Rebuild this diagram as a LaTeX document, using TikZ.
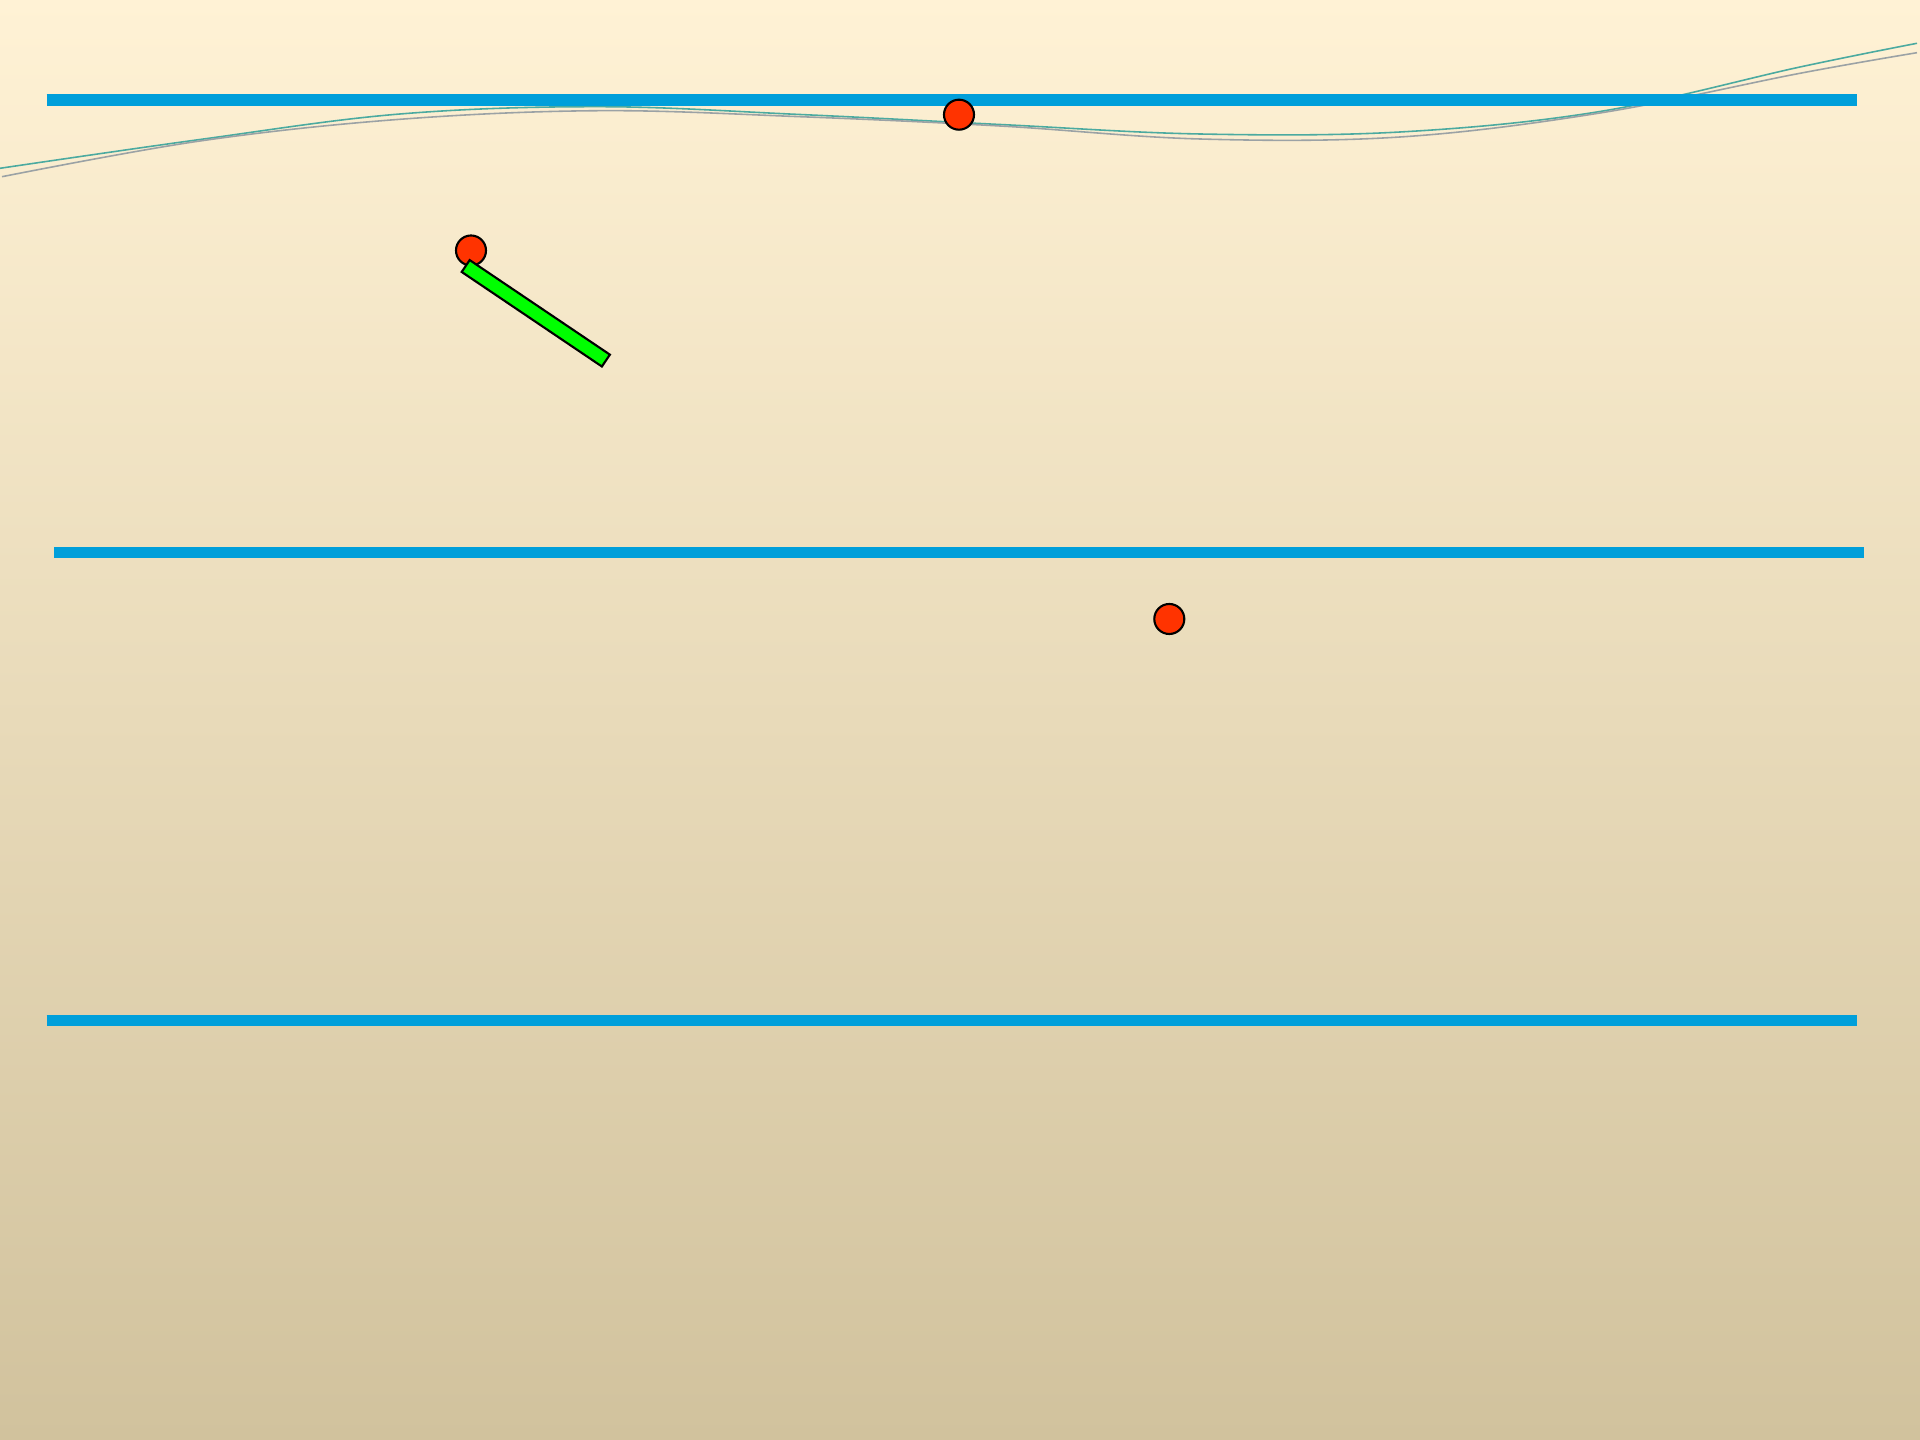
\documentclass[tikz,border=0pt]{standalone}
\usepackage{tikz}
\usetikzlibrary{positioning}

\definecolor{railblue}{RGB}{0,159,218}
\definecolor{ballred}{RGB}{255,51,0}
\definecolor{rodgreen}{RGB}{0,255,0}
\definecolor{bgtop}{RGB}{255,242,213}
\definecolor{bgbot}{RGB}{209,194,157}
\definecolor{waveteal}{RGB}{75,170,160}
\definecolor{wavegrey}{RGB}{155,162,165}

\begin{document}
\begin{tikzpicture}[x=0.01cm, y=-0.01cm,
  rail/.style={draw=railblue, line width=0.117cm},
  ball/.style={circle, draw=black, fill=ballred, line width=0.6pt,
               minimum size=0.3cm, inner sep=0pt},
  rod/.style={rectangle, draw=black, fill=rodgreen, line width=0.6pt,
              minimum width=1.69cm, minimum height=0.143cm, inner sep=0pt},
  wave/.style={line width=0.45pt, smooth, tension=0.6}]

% the page and its shaded ground
\useasboundingbox (0,0) rectangle (1920,1440);
\shade[top color=bgtop, bottom color=bgbot] (0,0) rectangle (1920,1440);

% the two traced curves
\draw[wave, draw=waveteal] plot coordinates {(0,168.3) (200,139.5) (400,114)
  (600,106.7) (800,114.5) (1000,124.5) (1200,134) (1400,132) (1600,111.5)
  (1800,67) (1917,43.3)};
\draw[wave, draw=wavegrey] plot coordinates {(2,176.7) (200,141) (400,119.3)
  (600,110.7) (800,116.7) (1000,126) (1200,139) (1400,137) (1600,113)
  (1800,73.3) (1917,52.7)};

% rails
\draw[rail] (46.5,99.9) -- (1856.7,99.9);
\draw[rail] (54,552.5) -- (1864,552.5);
\draw[rail] (46.5,1020.6) -- (1856.5,1020.6);

% balls and the rod
\node[ball] (topball) at (959,114.7) {};
\node[ball] (rodball) at (471,250.5) {};
\node[ball] (midball) at (1169.3,619) {};
\node[rod, rotate=-34] (rod) at (535.8,313.3) {};
\end{tikzpicture}
\end{document}
